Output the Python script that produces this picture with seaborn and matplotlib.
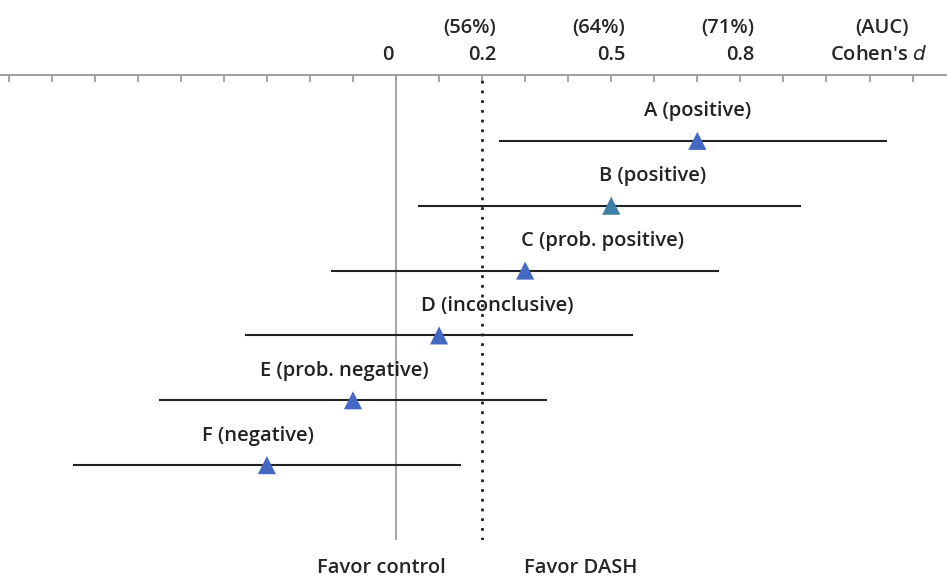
import matplotlib
matplotlib.use('Agg')
import matplotlib.pyplot as plt
import matplotlib.transforms as mtransforms
import seaborn as sns
import pandas as pd

# Effect sizes (Cohen's d) with 95% interval
studies = ['A (positive)', 'B (positive)', 'C (prob. positive)',
           'D (inconclusive)', 'E (prob. negative)', 'F (negative)']
effect = [0.70, 0.50, 0.30, 0.10, -0.10, -0.30]
ci_low = [0.24, 0.05, -0.15, -0.35, -0.55, -0.75]
ci_high = [1.14, 0.94, 0.75, 0.55, 0.35, 0.15]
top_ticks = [0, 0.2, 0.5, 0.8]
top_tick_labels = ['0', '0.2', '0.5', '0.8']
auc_labels = ['(56%)', '(64%)', '(71%)']

df = pd.DataFrame({'study': studies, 'd': effect, 'lo': ci_low, 'hi': ci_high})
df['row'] = list(range(len(df), 0, -1))

sns.set_style('white')
plt.rcParams['font.family'] = ['Open Sans', 'DejaVu Sans']
FS = 14.5

fig = plt.figure(figsize=(9.47, 5.85), dpi=100)
ax = fig.add_axes([0, 45 / 585, 1, 465 / 585])
ax.set_xlim(-0.92, 1.28)
ax.set_ylim(-0.154, 7.015)

# reference lines
ax.axvline(0, color='#a0a0a0', lw=1.3, zorder=1)
ax.axvline(0.2, color='#222222', lw=2, ls=(0, (1, 2.5)), zorder=1)

ax.hlines(df['row'], df['lo'], df['hi'], color='#222222', lw=1.5, zorder=2)
palette = ['#4468c4', '#3d80a6', '#4468c4', '#4468c4', '#4468c4', '#4468c4']
sns.scatterplot(data=df, x='d', y='row', hue='study', palette=palette,
                marker='^', s=170, edgecolor='none', legend=False, ax=ax, zorder=3)
ax.set_xlabel('')
ax.set_ylabel('')

# study labels above each line
label_dx = [0.0, 0.095, 0.18, 0.135, -0.02, -0.02]
for (_, r), dx in zip(df.iterrows(), label_dx):
    ax.text(r['d'] + dx, r['row'] + 0.3, r['study'], ha='center', va='bottom',
            fontsize=FS, fontweight='semibold', color='#222222')

# top axis
for s in ['left', 'right', 'bottom']:
    ax.spines[s].set_visible(False)
ax.spines['top'].set_color('#999999')
ax.spines['top'].set_linewidth(1.3)
ax.set_yticks([])
ax.set_xticks([round(-0.9 + 0.1 * i, 1) for i in range(22)])
ax.tick_params(axis='x', top=True, bottom=False, labeltop=False, labelbottom=False,
               direction='in', length=5, width=1.2, color='#999999')

trans = mtransforms.blended_transform_factory(ax.transData, fig.transFigure)
for t, lab in zip(top_ticks, top_tick_labels):
    ax.text(t - 0.02 if t == 0 else t, 1 - 55 / 585, lab, transform=trans,
            ha='center', va='center', fontsize=FS, fontweight='semibold')
for t, lab in zip(top_ticks[1:], auc_labels):
    ax.text(t - 0.03, 1 - 28 / 585, lab, transform=trans,
            ha='center', va='center', fontsize=FS, fontweight='semibold')
ax.text(1.13, 1 - 28 / 585, '(AUC)', transform=trans, ha='center', va='center',
        fontsize=FS, fontweight='semibold')
ax.text(1.12, 1 - 55 / 585, "Cohen's $\\mathit{d}$", transform=trans, ha='center',
        va='center', fontsize=FS, fontweight='semibold')

ax.text(-0.035, 1 - 568 / 585, 'Favor control', transform=trans, ha='center',
        va='center', fontsize=FS, fontweight='semibold')
ax.text(0.43, 1 - 568 / 585, 'Favor DASH', transform=trans, ha='center',
        va='center', fontsize=FS, fontweight='semibold')

fig.savefig('out.png', dpi=100)
